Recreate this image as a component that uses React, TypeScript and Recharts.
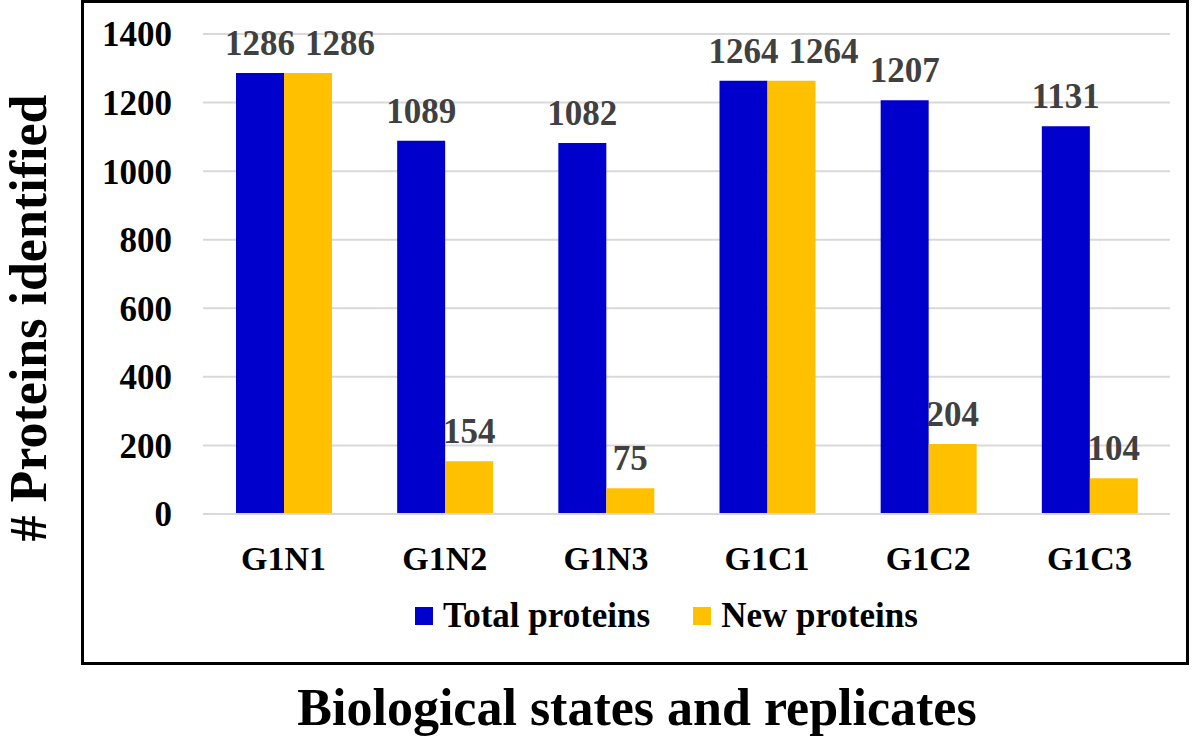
import React from "react";
import {
  Bar,
  BarChart,
  CartesianGrid,
  LabelList,
  Legend,
  XAxis,
  YAxis,
} from "recharts";

// Proteins identified per biological state / replicate.
const categories = ["G1N1", "G1N2", "G1N3", "G1C1", "G1C2", "G1C3"];
const totalProteins = [1286, 1089, 1082, 1264, 1207, 1131];
const newProteins = [1286, 154, 75, 1264, 204, 104];
const yTicks = [0, 200, 400, 600, 800, 1000, 1200, 1400];
const seriesNames = ["Total proteins", "New proteins"];

const COLOR = {
  total: "#0000CC",
  fresh: "#FFC000",
  grid: "#D9D9D9",
  label: "#404040",
  ink: "#000000",
};

const SERIF = '"Liberation Serif", "Times New Roman", serif';

const data = categories.map((name, i) => ({
  name,
  total: totalProteins[i],
  fresh: newProteins[i],
}));

const legendItems = [
  { value: seriesNames[0], color: COLOR.total },
  { value: seriesNames[1], color: COLOR.fresh },
];

function LegendContent() {
  return (
    <div style={{ display: "flex", justifyContent: "flex-start", paddingLeft: 415 }}>
      {legendItems.map((it) => (
        <div key={it.value} style={{ display: "flex", alignItems: "center", marginRight: 43 }}>
          <span style={{ width: 18, height: 18, background: it.color, display: "inline-block", marginRight: 10 }} />
          <span style={{ fontFamily: SERIF, fontWeight: 700, fontSize: 35, color: COLOR.ink, lineHeight: "40px" }}>
            {it.value}
          </span>
        </div>
      ))}
    </div>
  );
}

// Excel nudges the "new" label to the right when it would collide with the
// "total" label of the same category (both bars nearly equal height).
function FreshLabel(props: any) {
  const { x, y, width, value, index } = props;
  const total = totalProteins[index];
  const collide = Math.abs(total - Number(value)) < 100;
  const cx = Number(x) + Number(width) / 2 + (collide ? 32 : 0);
  return (
    <text
      x={cx}
      y={Number(y) - 18}
      textAnchor="middle"
      fill={COLOR.label}
      fontSize={35}
      fontWeight={700}
      fontFamily={SERIF}
    >
      {value}
    </text>
  );
}

export default function App() {
  return (
    <div style={{ position: "absolute", left: 0, top: 0, width: 1200, height: 741, background: "#fff" }}>
      <BarChart
        width={1200}
        height={741}
        data={data}
        margin={{ top: 34, right: 30, bottom: 167, left: 0 }}
        barGap={0}
        barSize={48}
      >
        <CartesianGrid vertical={false} stroke={COLOR.grid} strokeWidth={2} />
        <XAxis
          dataKey="name"
          height={60}
          tickLine={false}
          axisLine={{ stroke: COLOR.grid, strokeWidth: 2 }}
          tickSize={0}
          tickMargin={32}
          tick={{ fill: COLOR.ink, fontSize: 34, fontWeight: 700, fontFamily: SERIF }}
          label={{
            content: () => (
              <text x={637} y={725} textAnchor="middle" fill={COLOR.ink} fontSize={52} fontWeight={700} fontFamily={SERIF}>
                Biological states and replicates
              </text>
            ),
          }}
        />
        <YAxis
          width={203}
          domain={[0, 1400]}
          ticks={yTicks}
          tickLine={false}
          axisLine={false}
          tickSize={0}
          tickMargin={31}
          tick={{ fill: COLOR.ink, fontSize: 35, fontWeight: 700, fontFamily: SERIF }}
          label={{
            content: () => (
              <text
                x={46}
                y={318}
                transform="rotate(-90 46 318)"
                textAnchor="middle"
                fill={COLOR.ink}
                fontSize={52}
                fontWeight={700}
                fontFamily={SERIF}
              >
                # Proteins identified
              </text>
            ),
          }}
        />
        <Legend
          verticalAlign="middle"
          layout="horizontal"
          content={<LegendContent />}
          wrapperStyle={{ top: 596, left: 0, width: 1200 }}
        />
        <Bar dataKey="total" name={seriesNames[0]} fill={COLOR.total} isAnimationActive={false}>
          <LabelList
            dataKey="total"
            position="top"
            offset={18}
            fill={COLOR.label}
            fontSize={35}
            fontWeight={700}
            fontFamily={SERIF}
          />
        </Bar>
        <Bar dataKey="fresh" name={seriesNames[1]} fill={COLOR.fresh} isAnimationActive={false}>
          <LabelList dataKey="fresh" content={<FreshLabel />} />
        </Bar>
      </BarChart>
      <div
        style={{
          position: "absolute",
          left: 81,
          top: 0,
          width: 1108,
          height: 665,
          border: "3px solid #000",
          boxSizing: "border-box",
          pointerEvents: "none",
        }}
      />
    </div>
  );
}
